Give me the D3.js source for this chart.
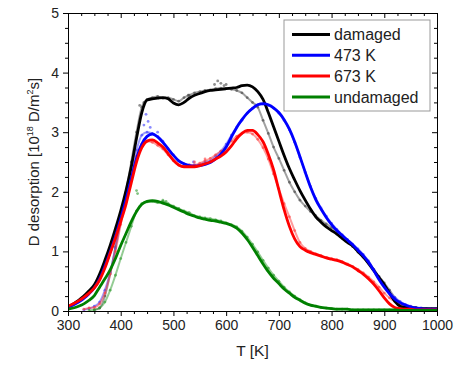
<!DOCTYPE html>
<html>
<head>
<meta charset="utf-8">
<script src="https://cdn.jsdelivr.net/npm/d3@7"></script>
<style>
  body { margin: 0; background: #fff; }
  svg { font-family: "Liberation Sans", Arial, sans-serif; }
</style>
</head>
<body>
<div id="wrapper"></div>
<script>
// temperature grid [K]
const tempK = [300,310,320,330,340,350,360,370,380,390,400,410,420,430,440,450,460,470,480,490,
  500,510,520,530,540,550,560,570,580,590,600,610,620,630,640,650,660,670,680,690,
  700,710,720,730,740,750,760,770,780,790,800,810,820,830,840,850,860,870,880,890,
  900,910,920,930,940,950,960,970,980,990,1000]

// fitted curves (thick lines), D desorption in 1e18 D/m^2s
const damagedFit = [0.07,0.12,0.18,0.25,0.34,0.44,0.62,0.85,1.10,1.38,1.68,2.02,2.42,2.90,3.33,3.54,3.56,3.57,3.58,3.56,
  3.49,3.46,3.50,3.57,3.62,3.65,3.68,3.70,3.71,3.72,3.73,3.74,3.75,3.78,3.79,3.76,3.68,3.55,3.33,3.09,
  2.85,2.61,2.39,2.20,2.02,1.86,1.71,1.58,1.49,1.41,1.35,1.29,1.22,1.15,1.09,1.00,0.91,0.80,0.68,0.56,
  0.44,0.30,0.16,0.08,0.06,0.05,0.05,0.04,0.04,0.04,0.04]
const k473Fit = [0.06,0.10,0.15,0.21,0.29,0.39,0.54,0.75,0.99,1.25,1.55,1.87,2.22,2.56,2.80,2.93,2.97,2.92,2.83,2.72,
  2.61,2.52,2.47,2.44,2.43,2.44,2.46,2.49,2.55,2.63,2.75,2.92,3.08,3.21,3.32,3.40,3.46,3.48,3.46,3.41,
  3.33,3.21,3.05,2.84,2.59,2.33,2.08,1.87,1.71,1.57,1.45,1.35,1.27,1.19,1.11,1.02,0.93,0.82,0.68,0.53,
  0.40,0.29,0.20,0.14,0.10,0.07,0.05,0.04,0.03,0.03,0.03]
const k673Fit = [0.08,0.12,0.17,0.23,0.30,0.39,0.52,0.72,0.97,1.22,1.50,1.79,2.15,2.50,2.74,2.85,2.87,2.82,2.75,2.64,
  2.53,2.45,2.42,2.42,2.42,2.44,2.47,2.50,2.55,2.60,2.67,2.77,2.89,2.98,3.03,3.03,2.96,2.84,2.63,2.37,
  2.03,1.70,1.42,1.21,1.08,1.02,0.98,0.95,0.92,0.89,0.87,0.85,0.82,0.78,0.74,0.68,0.62,0.54,0.45,0.34,
  0.22,0.12,0.06,0.04,0.03,0.03,0.02,0.02,0.02,0.02,0.02]
const undamagedFit = [0.03,0.05,0.08,0.12,0.18,0.26,0.40,0.54,0.69,0.88,1.10,1.30,1.50,1.67,1.79,1.84,1.85,1.84,1.81,1.78,
  1.74,1.70,1.66,1.62,1.59,1.56,1.54,1.52,1.51,1.49,1.47,1.44,1.39,1.31,1.20,1.07,0.93,0.79,0.66,0.55,
  0.46,0.37,0.30,0.23,0.18,0.13,0.10,0.08,0.06,0.05,0.04,0.03,0.03,0.03,0.02,0.02,0.02,0.02,0.02,0.02,
  0.02,0.02,0.02,0.01,0.01,0.01,0.01,0.01,0.01,0.01,0.01]

// measured data (dots), null = no data
const damagedMeas = [null,null,null,null,null,0.02,0.05,0.25,0.62,1.08,1.55,2.00,2.50,3.00,3.42,3.55,3.58,3.60,3.57,3.58,
  3.55,3.52,3.58,3.62,3.66,3.68,3.70,3.71,3.73,3.74,3.73,3.72,3.70,3.66,3.58,3.50,3.42,3.20,2.98,2.75,
  2.56,2.36,2.16,2.00,1.86,1.76,1.67,1.60,1.52,1.46,1.40,1.33,1.25,1.16,1.08,0.99,0.90,0.80,0.70,0.58,
  0.47,0.35,0.22,0.12,0.07,0.05,0.04,0.03,0.03,0.03,0.03]
const k473Meas = [null,null,null,0.02,0.04,0.08,0.15,0.35,0.65,1.05,1.50,1.90,2.30,2.70,2.95,3.00,2.98,2.93,2.85,2.72,
  2.62,2.52,2.47,2.45,2.45,2.46,2.50,2.52,2.60,2.68,2.80,2.95,3.08,3.20,3.32,3.40,3.46,3.47,3.45,3.40,
  3.32,3.20,3.04,2.83,2.58,2.33,2.09,1.89,1.73,1.59,1.47,1.37,1.28,1.20,1.12,1.04,0.95,0.84,0.70,0.56,
  0.43,0.32,0.23,0.16,0.11,0.08,0.06,0.05,0.04,0.03,0.03]
const k673Meas = [null,null,null,0.03,0.05,0.06,0.12,0.30,0.62,1.00,1.45,1.85,2.25,2.60,2.80,2.85,2.83,2.78,2.72,2.62,
  2.52,2.45,2.43,2.45,2.45,2.48,2.52,2.56,2.62,2.68,2.75,2.85,2.93,2.98,3.00,2.97,2.88,2.74,2.55,2.30,
  2.05,1.80,1.58,1.35,1.15,1.05,1.00,0.96,0.93,0.90,0.88,0.86,0.83,0.79,0.75,0.70,0.64,0.57,0.49,0.40,
  0.30,0.22,0.16,0.12,0.09,0.07,0.05,0.04,0.03,0.03,0.02]
const undamagedMeas = [null,null,null,null,0.01,0.02,0.05,0.15,0.35,0.60,0.88,1.15,1.42,1.68,1.80,1.83,1.84,1.82,1.84,1.80,
  1.76,1.72,1.68,1.65,1.60,1.58,1.56,1.55,1.53,1.51,1.48,1.45,1.41,1.34,1.24,1.12,0.99,0.85,0.72,0.60,
  0.50,0.40,0.32,0.25,0.19,0.14,0.10,0.08,0.06,0.05,0.04,0.03,0.03,0.03,0.02,0.02,0.02,0.02,0.02,0.02,
  0.02,0.02,0.02,0.02,0.01,0.01,0.01,0.01,0.01,0.01,0.01]

// scattered measured points off the main trend: [T, value]
const damagedScatter = [[436, 3.45], [444, 3.50], [528, 3.62], [578, 3.80], [584, 3.86], [590, 3.82], [596, 3.78], [600, 3.80]]
const k473Scatter = [[444, 3.12], [448, 3.30], [452, 3.18], [456, 3.08], [470, 3.00], [538, 2.50]]
const k673Scatter = [[540, 2.50], [560, 2.55]]
const undamagedScatter = [[430, 2.02], [432, 1.97], [480, 1.86], [486, 1.84]]

const seriesNames = ["damaged", "473 K", "673 K", "undamaged"]
const seriesColors = ["#000000", "#0000ff", "#ff0000", "#008000"]
const measColors = ["#444444", "#3a3aff", "#ff3a3a", "#2a9a2a"]

const xTicks = [300, 400, 500, 600, 700, 800, 900, 1000]
const yTicks = [0, 1, 2, 3, 4, 5]

function drawChart() {
  const dimensions = {
    width: 461,
    height: 365,
    margin: { top: 13, right: 24, bottom: 54, left: 68 }
  }
  dimensions.boundedWidth = dimensions.width - dimensions.margin.left - dimensions.margin.right
  dimensions.boundedHeight = dimensions.height - dimensions.margin.top - dimensions.margin.bottom

  const wrapper = d3.select("#wrapper")
    .append("svg")
      .attr("width", dimensions.width)
      .attr("height", dimensions.height)

  const bounds = wrapper.append("g")
    .attr("transform", `translate(${dimensions.margin.left},${dimensions.margin.top})`)

  const xScale = d3.scaleLinear()
    .domain([300, 1000])
    .range([0, dimensions.boundedWidth])

  const yScale = d3.scaleLinear()
    .domain([0, 5])
    .range([dimensions.boundedHeight, 0])

  const fits = [damagedFit, k473Fit, k673Fit, undamagedFit]
  const meas = [damagedMeas, k473Meas, k673Meas, undamagedMeas]
  const scatters = [damagedScatter, k473Scatter, k673Scatter, undamagedScatter]

  const lineGen = d3.line()
    .defined(d => d[1] != null)
    .x(d => xScale(d[0]))
    .y(d => yScale(d[1]))
    .curve(d3.curveMonotoneX)

  bounds.append("clipPath").attr("id", "clip")
    .append("rect")
      .attr("y", -2)
      .attr("width", dimensions.boundedWidth)
      .attr("height", dimensions.boundedHeight + 2)

  const plot = bounds.append("g").attr("clip-path", "url(#clip)")

  // measured data: thin line + dots
  meas.forEach((vals, i) => {
    const pts = tempK.map((t, j) => [t, vals[j]])
    plot.append("path")
      .attr("d", lineGen(pts))
      .attr("fill", "none")
      .attr("stroke", measColors[i])
      .attr("stroke-opacity", 0.5)
      .attr("stroke-width", 2)
    plot.append("g").selectAll("circle")
      .data(pts.filter(d => d[1] != null).concat(scatters[i]))
      .join("circle")
        .attr("cx", d => xScale(d[0]))
        .attr("cy", d => yScale(d[1]))
        .attr("r", 1.4)
        .attr("fill", measColors[i])
        .attr("fill-opacity", 0.6)
  })

  // fitted curves
  fits.forEach((vals, i) => {
    const pts = tempK.map((t, j) => [t, vals[j]])
    plot.append("path")
      .attr("d", lineGen(pts))
      .attr("fill", "none")
      .attr("stroke", seriesColors[i])
      .attr("stroke-width", 2.8)
  })

  // minor tick values
  const xMinor = d3.range(300, 1001, 25).filter(v => v % 100 != 0)
  const yMinor = d3.range(0, 5.01, 0.25).filter(v => v % 1 != 0)

  const styleAxis = g => {
    g.select(".domain").attr("stroke", "#000")
    g.selectAll(".tick line").attr("stroke", "#000")
    g.selectAll(".tick text")
      .attr("fill", "#222")
      .style("font-size", "14px")
  }

  // bottom axis
  bounds.append("g")
    .attr("transform", `translate(0,${dimensions.boundedHeight})`)
    .call(d3.axisBottom(xScale).tickValues(xTicks).tickFormat(d3.format("d"))
      .tickSize(5).tickPadding(4).tickSizeOuter(0))
    .call(styleAxis)
  bounds.append("g")
    .attr("transform", `translate(0,${dimensions.boundedHeight})`)
    .call(d3.axisBottom(xScale).tickValues(xMinor).tickSize(3).tickFormat(""))
    .call(g => g.select(".domain").remove())

  // left axis
  bounds.append("g")
    .call(d3.axisLeft(yScale).tickValues(yTicks).tickFormat(d3.format("d"))
      .tickSize(5).tickPadding(4).tickSizeOuter(0))
    .call(styleAxis)
  bounds.append("g")
    .call(d3.axisLeft(yScale).tickValues(yMinor).tickSize(3).tickFormat(""))
    .call(g => g.select(".domain").remove())

  // top axis, ticks inward
  bounds.append("g")
    .call(d3.axisTop(xScale).tickValues(xTicks).tickSize(-5).tickFormat("").tickSizeOuter(0))
    .call(styleAxis)
  bounds.append("g")
    .call(d3.axisTop(xScale).tickValues(xMinor).tickSize(-3).tickFormat(""))
    .call(g => g.select(".domain").remove())

  // right axis, ticks inward
  bounds.append("g")
    .attr("transform", `translate(${dimensions.boundedWidth},0)`)
    .call(d3.axisRight(yScale).tickValues(yTicks).tickSize(-5).tickFormat("").tickSizeOuter(0))
    .call(styleAxis)
  bounds.append("g")
    .attr("transform", `translate(${dimensions.boundedWidth},0)`)
    .call(d3.axisRight(yScale).tickValues(yMinor).tickSize(-3).tickFormat(""))
    .call(g => g.select(".domain").remove())

  // x axis label
  bounds.append("text")
    .attr("x", dimensions.boundedWidth / 2)
    .attr("y", dimensions.boundedHeight + 45)
    .attr("text-anchor", "middle")
    .attr("fill", "#222")
    .style("font-size", "15.5px")
    .text("T [K]")

  // y axis label with superscripts
  const yLabel = bounds.append("text")
    .attr("transform", `translate(-29,${dimensions.boundedHeight / 2}) rotate(-90)`)
    .attr("text-anchor", "middle")
    .attr("fill", "#222")
    .style("font-size", "15px")
  yLabel.append("tspan").text("D desorption [10")
  yLabel.append("tspan").attr("dy", -6).style("font-size", "9px").text("18")
  yLabel.append("tspan").attr("dy", 6).text(" D/m")
  yLabel.append("tspan").attr("dy", -6).style("font-size", "9px").text("2")
  yLabel.append("tspan").attr("dy", 6).text("s]")

  // legend
  const legend = bounds.append("g")
    .attr("transform", `translate(${284 - dimensions.margin.left},${20 - dimensions.margin.top})`)
  legend.append("rect")
    .attr("width", 146)
    .attr("height", 91)
    .attr("fill", "#fff")
    .attr("stroke", "#999")
    .attr("stroke-width", 1)
  const items = legend.selectAll(".item")
    .data(seriesNames)
    .join("g")
      .attr("transform", (d, i) => `translate(0,${14.5 + i * 20.8})`)
  items.append("line")
    .attr("x1", 8).attr("x2", 46)
    .attr("stroke", (d, i) => seriesColors[i])
    .attr("stroke-width", 3)
  items.append("text")
    .attr("x", 50)
    .attr("dy", "0.35em")
    .attr("fill", "#222")
    .style("font-size", "16px")
    .text(d => d)
}

drawChart()
</script>
</body>
</html>
